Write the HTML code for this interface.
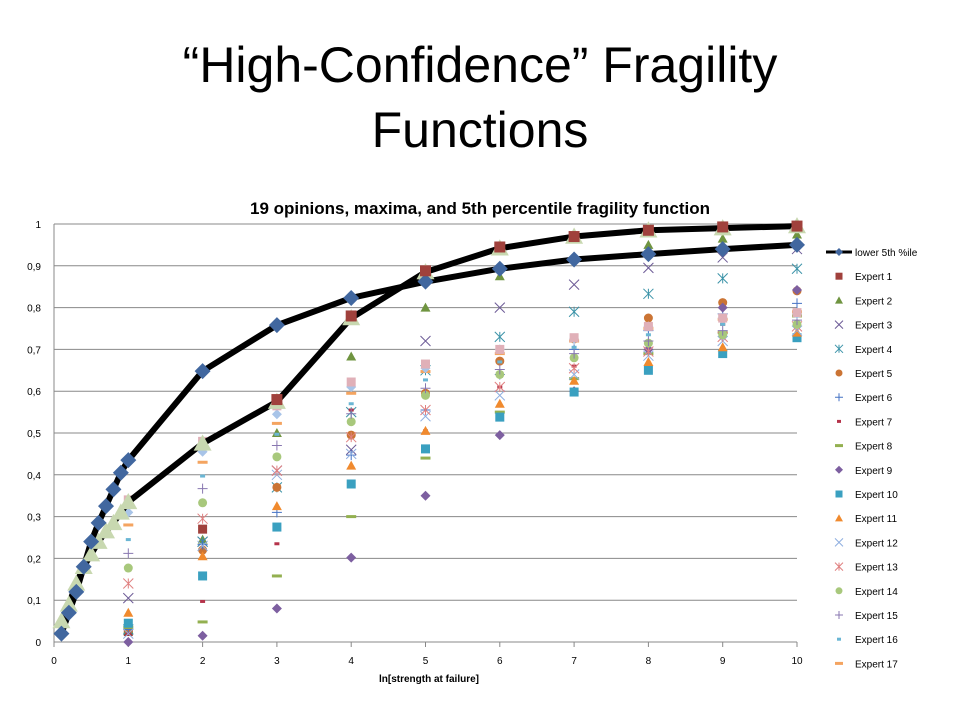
<!DOCTYPE html>
<html><head><meta charset="utf-8"><style>
body{margin:0;background:#fff;width:960px;height:720px;overflow:hidden;font-family:"Liberation Sans",sans-serif}
#title{position:absolute;left:0;top:33px;width:960px;text-align:center;font-size:50px;line-height:65px;color:#000}
svg{position:absolute;left:0;top:0}
</style></head><body>
<div id="title">“High-Confidence” Fragility<br>Functions</div>
<svg id="chart" width="960" height="720"></svg>
<script>
const xs = [1,2,3,4,5,6,7,8,9,10];
const lowX = [0.1,0.2,0.3,0.4,0.5,0.6,0.7,0.8,0.9,1,2,3,4,5,6,7,8,9,10];
const lowY = [0.02,0.07,0.12,0.18,0.24,0.285,0.325,0.365,0.405,0.435,0.648,0.758,0.823,0.862,0.893,0.915,0.928,0.94,0.95];
const maxY = [0.05,0.09,0.14,0.18,0.21,0.24,0.265,0.285,0.31,0.335,0.475,0.575,0.775,0.885,0.942,0.97,0.985,0.99,0.995];
const e1 = [0.025,0.27,0.58,0.78,0.888,0.945,0.97,0.985,0.993,0.995];
const e2 = [0.03,0.245,0.5,0.683,0.8,0.875,0.92,0.95,0.965,0.975];
const e3 = [0.105,0.24,0.41,0.46,0.72,0.8,0.855,0.895,0.92,0.94];
const e4 = [0.03,0.24,0.37,0.55,0.65,0.73,0.79,0.833,0.87,0.893];
const e5 = [0.03,0.22,0.37,0.495,0.595,0.672,0.725,0.775,0.812,0.84];
const e6 = [0.03,0.233,0.31,0.447,0.555,0.64,0.7,0.745,0.785,0.81];
const e7 = [0.02,0.097,0.235,0.555,0.505,0.61,0.66,0.72,0.76,0.79];
const e8 = [0.035,0.048,0.158,0.3,0.44,0.55,0.63,0.69,0.74,0.78];
const e9 = [0.0,0.015,0.08,0.202,0.35,0.495,0.6,0.7,0.8,0.842];
const e10 = [0.045,0.158,0.275,0.378,0.462,0.538,0.598,0.65,0.69,0.728];
const e11 = [0.07,0.205,0.325,0.422,0.505,0.57,0.625,0.67,0.705,0.74];
const e12 = [0.02,0.23,0.4,0.45,0.54,0.59,0.64,0.685,0.72,0.745];
const e13 = [0.14,0.295,0.41,0.49,0.555,0.61,0.655,0.695,0.73,0.755];
const e14 = [0.177,0.333,0.443,0.527,0.59,0.64,0.68,0.715,0.735,0.76];
const e15 = [0.212,0.367,0.47,0.546,0.607,0.652,0.69,0.72,0.745,0.77];
const e16 = [0.245,0.397,0.497,0.57,0.627,0.67,0.705,0.735,0.76,0.78];
const e17 = [0.28,0.43,0.523,0.595,0.647,0.69,0.72,0.75,0.772,0.79];
const e18 = [0.31,0.455,0.545,0.61,0.655,0.7,0.725,0.755,0.775,0.785];
const e19 = [0.34,0.48,0.565,0.622,0.665,0.7,0.728,0.755,0.775,0.788];
const yTicks = ["0","0,1","0,2","0,3","0,4","0,5","0,6","0,7","0,8","0,9","1"];
const xTicks = ["0","1","2","3","4","5","6","7","8","9","10"];

const NS="http://www.w3.org/2000/svg";
const svg=document.getElementById('chart');
const X0=54,X1=797,Y0=642,Y1=224;
const sx=v=>X0+(X1-X0)*v/10, sy=v=>Y0-(Y0-Y1)*v;
function mk(t,a,p){const e=document.createElementNS(NS,t);for(const k in a)e.setAttribute(k,a[k]);(p||svg).appendChild(e);return e;}
function txt(x,y,s,size,anchor,weight){const e=mk('text',{x:x,y:y,'font-size':size,'text-anchor':anchor||'start','font-weight':weight||'normal',fill:'#000','font-family':'Liberation Sans, sans-serif'});e.textContent=s;return e;}

yTicks.forEach((l,i)=>{const v=i/10;
 const g=mk('line',{x1:X0,x2:X1,y1:sy(v),y2:sy(v),stroke:'#888','stroke-width':1});
 
 
 const t=txt(X0-13,sy(v)+4,l,10,'end');
 
 
});
mk('line',{x1:X0,x2:X0,y1:Y1,y2:Y0,stroke:'#888'});
xTicks.forEach((l,i)=>{
 mk('line',{x1:sx(i),x2:sx(i),y1:Y0,y2:Y0+5,stroke:'#888'});
 const t=txt(sx(i),Y0+22,l,10,'middle');
 
 
});
const xt=txt(429,682,'ln[strength at failure]',10,'middle','bold');


const ct=txt(480,214,'19 opinions, maxima, and 5th percentile fragility function',17,'middle','bold');



function marker(shape,color,x,y,g,s){
 s=s||5;
 if(shape==='diamond')return mk('polygon',{points:`${x},${y-s} ${x+s},${y} ${x},${y+s} ${x-s},${y}`,fill:color},g);
 if(shape==='square')return mk('rect',{x:x-s+0.5,y:y-s+0.5,width:2*s-1,height:2*s-1,fill:color},g);
 if(shape==='triangle')return mk('polygon',{points:`${x},${y-s} ${x+s},${y+s*0.8} ${x-s},${y+s*0.8}`,fill:color},g);
 if(shape==='circle')return mk('circle',{cx:x,cy:y,r:s-0.5,fill:color},g);
 if(shape==='x')return mk('path',{d:`M${x-s},${y-s}L${x+s},${y+s}M${x-s},${y+s}L${x+s},${y-s}`,stroke:color,'stroke-width':1,fill:'none'},g);
 if(shape==='star')return mk('path',{d:`M${x-s},${y-s}L${x+s},${y+s}M${x-s},${y+s}L${x+s},${y-s}M${x},${y-s}L${x},${y+s}`,stroke:color,'stroke-width':1,fill:'none'},g);
 if(shape==='plus')return mk('path',{d:`M${x-s},${y}L${x+s},${y}M${x},${y-s}L${x},${y+s}`,stroke:color,'stroke-width':1,fill:'none'},g);
 if(shape==='dash')return mk('rect',{x:x-s*0.5,y:y-1.5,width:s,height:3,fill:color},g);
 if(shape==='ldash')return mk('rect',{x:x-s,y:y-1.5,width:2*s,height:3,fill:color},g);
}
const series=[
 ['Expert 1',e1,'square','#a0413c'],['Expert 2',e2,'triangle','#6f9440'],['Expert 3',e3,'x','#6c5a96'],
 ['Expert 4',e4,'star','#3b93a8'],['Expert 5',e5,'circle','#cb7434'],['Expert 6',e6,'plus','#4472c4'],
 ['Expert 7',e7,'dash','#b5334a'],['Expert 8',e8,'ldash','#93b050'],['Expert 9',e9,'diamond','#7d5fa0'],
 ['Expert 10',e10,'square','#3aa0c0'],['Expert 11',e11,'triangle','#f08a2e'],['Expert 12',e12,'x','#8eaee0'],
 ['Expert 13',e13,'star','#e08080'],['Expert 14',e14,'circle','#a8c87c'],['Expert 15',e15,'plus','#8877b0'],
 ['Expert 16',e16,'dash','#6ab6d4'],['Expert 17',e17,'ldash','#f4a460'],['Expert 18',e18,'diamond','#a8c4e8'],
 ['Expert 19',e19,'square','#e0b0b8']];
series.forEach(([name,vals,sh,c],si)=>{
 const g=mk('g',{});
 
 
 vals.forEach((v,i)=>{const m=marker(sh,c,sx(xs[i]),sy(v),g);
  
  });
});
const pts=a=>a.map((v,i)=>sx(lowX[i])+','+sy(v)).join(' ');
const ml=mk('polyline',{points:pts(maxY),fill:'none',stroke:'#000','stroke-width':6,'stroke-linejoin':'round'});


const ll=mk('polyline',{points:pts(lowY),fill:'none',stroke:'#000','stroke-width':6,'stroke-linejoin':'round'});


const mg=mk('g',{});


maxY.forEach((v,i)=>{const m=marker('triangle','#c8d8b0',sx(lowX[i]),sy(v),mg,9);
 
 });
const lg=mk('g',{});


lowY.forEach((v,i)=>{const m=marker('diamond','#41679f',sx(lowX[i]),sy(v),lg,8);
 
 });
series[0][1].forEach((v,i)=>{if(i>=2){const m=marker('square','#a0413c',sx(xs[i]),sy(v),null,6);
 
 }});

const legItems=[['lower 5th %ile','diamond','#41679f']].concat(series.slice(0,17).map(s=>[s[0],s[2],s[3]]));
legItems.forEach(([n,sh,c],i)=>{
 const y=252+i*24.2;
 const g=mk('g',{});
 
 
 if(i===0)mk('line',{x1:826,x2:852,y1:y,y2:y,stroke:'#000','stroke-width':3},g);
 marker(sh,c,839,y,g,4);
 const t=txt(855,y+4,n,10,'start');
 g.appendChild(t);
});
</script>
</body></html>
